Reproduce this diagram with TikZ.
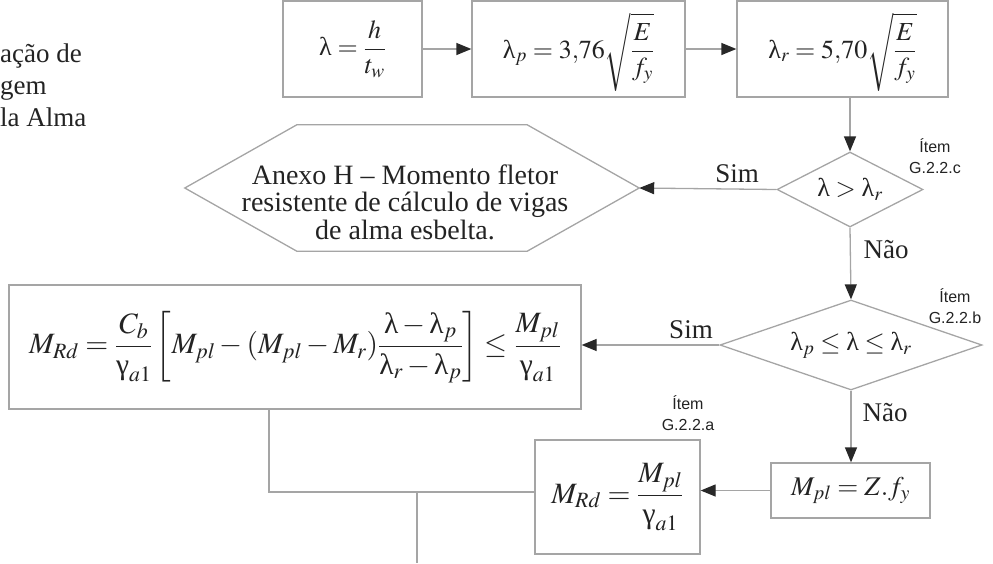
\documentclass[tikz,border=0pt]{standalone}
\usepackage{amsmath}
\usepackage{mathptmx}
\usepackage[no-math]{fontspec}
\setmainfont{Liberation Serif}
\newfontfamily\itemfamily{Liberation Sans}
\usetikzlibrary{arrows.meta,shapes.geometric}
\definecolor{linegray}{RGB}{165,165,165}
\definecolor{arrowcol}{RGB}{40,40,40}
\definecolor{textcol}{RGB}{35,35,35}
\newcommand\lam{\mathord{\text{\normalfont λ}}}
\newcommand\gam{\mathord{\text{\normalfont γ}}}
\newcommand\fmfont{\fontsize{26}{30}\selectfont}
\newcommand\fmbig{\fontsize{29.5}{34}\selectfont}
\newcommand\lblfont{\fontsize{27}{30}\selectfont}
\newcommand\hexfont{\fontsize{28}{27.5}\selectfont}
\newcommand\itemsz{\itemfamily\fontsize{16}{21}\selectfont}
\newcommand\lowered[1]{\raisebox{-3pt}[\height][\depth]{#1}}
\begin{document}
\begin{tikzpicture}[x=1pt,y=-1pt,
  conn/.style={draw=linegray,line width=1.3pt},
  arr/.style={conn,-{Triangle[length=15pt,width=12pt,color=arrowcol]}},
  fbox/.style={draw=linegray,line width=1.3pt,inner sep=0pt,text=textcol,font=\fmfont},
  dec/.style={diamond,aspect=2,draw=linegray,line width=1.3pt,inner sep=0pt,text=textcol,font=\fmfont},
  lbl/.style={text=textcol,font=\lblfont,inner sep=0pt},
  itemlbl/.style={text=textcol,font=\itemsz,align=center,inner sep=0pt}
]
\useasboundingbox (0,0) rectangle (993,563);
% cut-off title text
\node[lbl,anchor=base west] (t1) at (0,62) {ação de};
\node[lbl,anchor=base west] (t2) at (0,94) {gem};
\node[lbl,anchor=base west] (t3) at (0,126) {la Alma};
% top row
\node[fbox,minimum width=139pt,minimum height=96pt] (b1) at (352.5,49) {$\lam = \dfrac{h}{t_w}$};
\node[fbox,minimum width=213pt,minimum height=96pt] (b2) at (578.5,49) {\lowered{$\lam_p = 3{,}76\sqrt{\dfrac{E}{f_y}}$}};
\node[fbox,minimum width=211pt,minimum height=96pt] (b3) at (842.5,49) {\lowered{$\lam_r = 5{,}70\sqrt{\dfrac{E}{f_y}}$}};
% decision 1
\node[dec,minimum width=146pt,minimum height=75pt] (d1) at (850,189.5) {$\lam > \lam_r$};
\node[itemlbl] (i1) at (935,156) {Ítem\\G.2.2.c};
% hexagon
\node[inner sep=0pt,minimum width=454pt,minimum height=126pt] (hex) at (412,188) {};
\draw[conn] (hex.west) -- ([xshift=112pt]hex.north west) -- ([xshift=-112pt]hex.north east)
  -- (hex.east) -- ([xshift=-112pt]hex.south east) -- ([xshift=112pt]hex.south west) -- cycle;
\node[lbl,font=\hexfont,align=center] (hext) at (405,202) {Anexo H – Momento fletor\\resistente de cálculo de vigas\\de alma esbelta.};
% decision 2
\node[dec,aspect=3,minimum width=262pt,minimum height=90pt] (d2) at (851,345) {$\lam_p \le \lam \le \lam_r$};
\node[itemlbl] (i2) at (955,306) {Ítem\\G.2.2.b};
% result boxes
\node[fbox,font=\fmbig,minimum width=572pt,minimum height=124pt] (bb) at (295,347)
  {$M_{Rd} = \dfrac{C_b}{\gam_{a1}}\left[M_{pl} - (M_{pl}-M_r)\dfrac{\lam-\lam_p}{\lam_r-\lam_p}\right] \le \dfrac{M_{pl}}{\gam_{a1}}$};
\node[fbox,font=\fontsize{27}{30}\selectfont,minimum width=159pt,minimum height=55pt] (mp) at (850.5,490.5) {$M_{pl} = Z.f_y$};
\node[fbox,font=\fmbig,minimum width=165pt,minimum height=114pt] (mr) at (617.5,497) {$M_{Rd} = \dfrac{M_{pl}}{\gam_{a1}}$};
\node[itemlbl] (i3) at (688,413) {Ítem\\G.2.2.a};
% branch labels
\node[lbl] (s1) at (737,174) {Sim};
\node[lbl] (n1) at (886,250) {Não};
\node[lbl] (s2) at (691,330) {Sim};
\node[lbl] (n2) at (885,413) {Não};
% connectors
\draw[arr] (b1) -- (b2);
\draw[arr] (b2) -- (b3);
\draw[arr] (b3.south -| d1.north) -- (d1.north);
\draw[arr] (d1.west) -- (hex.east);
\draw[arr] (d1.south) -- (d2.north);
\draw[arr] (d2.west) -- (d2.west -| bb.east);
\draw[arr] (d2.south) -- (d2.south |- mp.north);
\draw[arr] (mp.west) -- (mp.west -| mr.east);
\coordinate (j1) at (269,492);
\coordinate (j2) at (417,492);
\coordinate (bot) at (417,563);
\draw[conn] (bb.south -| j1) -- (j1) -- (j1 -| mr.west);
\draw[conn] (j2) -- (bot);
\end{tikzpicture}
\end{document}
